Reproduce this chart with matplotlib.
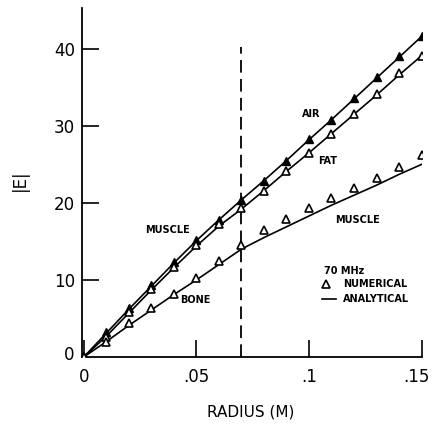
import matplotlib
matplotlib.use("Agg")
import matplotlib.pyplot as plt
import matplotlib.transforms as mtransforms
import numpy as np

# radius values (m)
radius = [0.0, 0.01, 0.02, 0.03, 0.04, 0.05, 0.06, 0.07,
          0.08, 0.09, 0.10, 0.11, 0.12, 0.13, 0.14, 0.15]

# numerical |E| (triangles)
upper_num = [0.0, 3.2, 6.3, 9.3, 12.3, 15.2, 17.8, 20.4,
             22.8, 25.4, 28.3, 30.8, 33.6, 36.3, 39.1, 41.7]
middle_num = [0.0, 2.6, 5.8, 8.8, 11.7, 14.6, 17.2, 19.3,
              21.6, 24.2, 26.5, 29.0, 31.5, 34.2, 36.8, 39.1]
lower_num = [0.0, 1.9, 4.4, 6.3, 8.2, 10.3, 12.5, 14.5,
             16.5, 17.9, 19.3, 20.6, 21.9, 23.2, 24.7, 26.2]

# analytical |E| (lines)
upper_ana = [0.0, 3.1, 6.2, 9.2, 12.2, 15.1, 17.8, 20.4,
             22.9, 25.5, 28.2, 30.8, 33.5, 36.2, 38.9, 41.6]
middle_ana = [0.0, 2.7, 5.7, 8.7, 11.6, 14.4, 17.0, 19.2,
              21.6, 24.1, 26.5, 29.0, 31.5, 34.0, 36.6, 39.1]
lower_ana = [0.0, 2.0, 4.1, 6.1, 8.1, 10.0, 12.0, 14.0,
             15.5, 16.9, 18.3, 19.7, 21.0, 22.3, 23.7, 25.0]

boundary = 0.07
xticks = [0, 0.05, 0.1, 0.15]
xticklabels = ["0", ".05", ".1", ".15"]
yticks = [0, 10, 20, 30, 40]
yticklabels = ["0", "10", "20", "30", "40"]

fig = plt.figure(figsize=(4.33, 4.29), dpi=100)
ax = fig.add_axes([82/433, 72/429, 340/433, 349/429])

lw = 1.2
for ana in (upper_ana, middle_ana, lower_ana):
    ax.plot(radius, ana, color="black", lw=lw, zorder=2)

ms = 5.2
ax.plot(radius, upper_num, linestyle="none", marker="^", markersize=ms,
        markerfacecolor="black", markeredgecolor="black", zorder=3)
ax.plot(radius, middle_num, linestyle="none", marker="^", markersize=ms,
        markerfacecolor="white", markeredgecolor="black", markeredgewidth=1.2, zorder=3)
ax.plot(radius, lower_num, linestyle="none", marker="^", markersize=ms,
        markerfacecolor="white", markeredgecolor="black", markeredgewidth=1.2, zorder=3)

ax.plot([boundary, boundary], [0, 40.3], color="black", lw=1.3,
        linestyle=(0, (7, 3.5)), zorder=1)

lab = dict(fontsize=7, fontweight="bold", color="black", ha="center", va="center")
ax.text(0.0372, 16.5, "MUSCLE", **lab)
ax.text(0.0496, 7.4, "BONE", **lab)
ax.text(0.1012, 31.6, "AIR", **lab)
ax.text(0.1084, 25.5, "FAT", **lab)
ax.text(0.1216, 17.8, "MUSCLE", **lab)

# legend-like annotations
ax.text(0.1067, 11.2, "70 MHz", fontsize=7, fontweight="bold", ha="left", va="center")
ax.plot([0.1077], [9.45], linestyle="none", marker="^", markersize=ms,
        markerfacecolor="white", markeredgecolor="black", markeredgewidth=1.2)
ax.text(0.1150, 9.45, "NUMERICAL", fontsize=7, fontweight="bold", ha="left", va="center")
ax.plot([0.1056, 0.1122], [7.5, 7.5], color="black", lw=1.2)
ax.text(0.1150, 7.5, "ANALYTICAL", fontsize=7, fontweight="bold", ha="left", va="center")

ax.set_xlim(-0.0008, 0.1502)
ax.set_ylim(0, 45.3)
for s in ("top", "right"):
    ax.spines[s].set_visible(False)
for s in ("left", "bottom"):
    ax.spines[s].set_linewidth(1.3)

ax.set_xticks(xticks)
ax.set_xticklabels(xticklabels)
ax.set_yticks(yticks[1:])
ax.set_yticklabels(yticklabels[1:])
ax.tick_params(axis="both", direction="in", length=12, width=1.2,
               labelsize=12, colors="black")
ax.tick_params(axis="x", pad=8)
ax.tick_params(axis="y", pad=5)
last = ax.get_xticklabels()[-1]
last.set_transform(last.get_transform() +
                   mtransforms.ScaledTranslation(-5/100, 0, fig.dpi_scale_trans))
ax.text(-0.004, 0.3, "0", fontsize=12, ha="right", va="center")

fig.text(251/433, 1 - 412/429, "RADIUS (M)", fontsize=11, ha="center", va="center")
fig.text(20/433, 1 - 180/429, "|E|", fontsize=12, ha="center", va="center", rotation=90)

fig.savefig("out.png", dpi=100)
